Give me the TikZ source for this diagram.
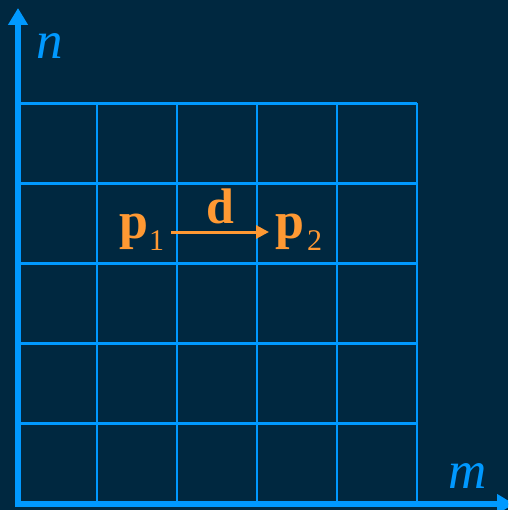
\documentclass[tikz,border=0pt]{standalone}
\usepackage{fontspec}
\setmainfont{Liberation Serif}
\usetikzlibrary{arrows.meta}
\definecolor{bgnavy}{RGB}{0,40,64}
\definecolor{gridblue}{RGB}{0,153,255}
\definecolor{vecorange}{RGB}{255,153,51}
\tikzset{
  gridline/.style={draw=gridblue, line width=2.6pt},
  axisline/.style={draw=gridblue, line width=6pt, -{Triangle[length=17pt,width=19pt]}},
  axislabel/.style={text=gridblue, inner sep=0pt, anchor=base west, font=\fontsize{53}{53}\selectfont\itshape},
  ptlabel/.style={text=vecorange, inner sep=0pt, anchor=base west},
  vecarrow/.style={draw=vecorange, line width=3pt, -{Triangle[length=13pt,width=13pt]}}
}
\newcommand{\ptxt}[2]{{\fontsize{52}{52}\selectfont\bfseries p}\kern#2pt\raisebox{-12pt}{\fontsize{30}{30}\selectfont #1}}
\begin{document}
\begin{tikzpicture}[x=1pt,y=-1pt]
  \clip (0,0) rectangle (508,510);
  \fill[bgnavy] (0,0) rectangle (508,510);
  % grid
  \foreach \x in {97,177,257,337,417} {
    \draw[gridline] (\x,103.5) -- (\x,504);
  }
  \foreach \y in {103.5,183.5,263.5,343.5,423.5} {
    \draw[gridline] (18,\y) -- (417,\y);
  }
  % axes
  \coordinate (o) at (18,507);
  \coordinate (ntip) at (18,8);
  \coordinate (ho) at (15,504);
  \coordinate (mtip) at (514,504);
  \draw[axisline] (o) -- (ntip);
  \draw[axisline] (ho) -- (mtip);
  \node[axislabel] (n) at (36,59) {n};
  \node[axislabel] (m) at (448,488) {m};
  % points
  \node[ptlabel] (p1) at (119,238) {\ptxt{1}{1}};
  \node[ptlabel] (p2) at (275,238) {\ptxt{2}{3}};
  \node[ptlabel, font=\fontsize{50}{50}\selectfont\bfseries] (d) at (206,223) {d};
  \coordinate (ds) at (171,232);
  \coordinate (de) at (269,232);
  \draw[vecarrow] (ds) -- (de);
\end{tikzpicture}
\end{document}
